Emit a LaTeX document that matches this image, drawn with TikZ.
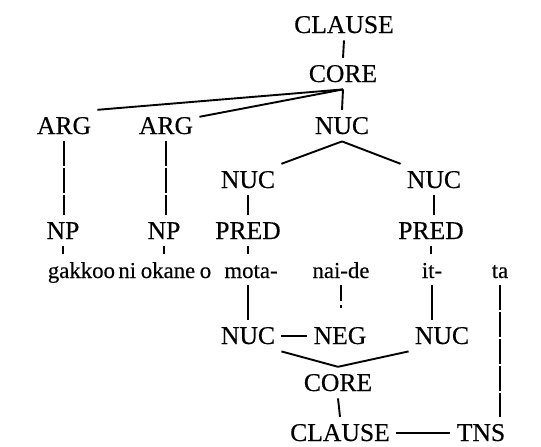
\documentclass[tikz,border=0pt]{standalone}
\usepackage{fontspec}
\setmainfont{Liberation Serif}[FakeBold=0.35]
\usetikzlibrary{calc}
\begin{document}
\begin{tikzpicture}[x=0.5pt,y=-0.5pt,
  lab/.style={font=\fontsize{12.8}{14}\selectfont, inner xsep=3pt, inner ysep=3.5pt, text height=8.4pt, text depth=0pt, anchor=base},
  wd/.style={lab, font=\fontsize{11.4}{14}\selectfont},
  ln/.style={line width=0.95pt},
  seg/.style={ln, dash pattern=on 12.5pt off 1pt},
  bang/.style={ln, dash pattern=on 8pt off 2pt on 1.2pt off 20pt}]
\useasboundingbox (0,0) rectangle (541,446);
\node[lab] (clA) at (344,33) {CLAUSE};
\node[lab] (coA) at (343,82) {CORE};
\node[lab] (arg1) at (64,134) {ARG};
\node[lab] (arg2) at (166,134) {ARG};
\node[lab] (nucA) at (342,134) {NUC};
\node[lab] (nucL) at (248,188) {NUC};
\node[lab] (nucR) at (434,188) {NUC};
\node[lab] (np1) at (63,239) {NP};
\node[lab] (np2) at (164,239) {NP};
\node[lab] (predL) at (248,239) {PRED};
\node[lab] (predR) at (431,239) {PRED};
\node[wd] (w1) at (92,278) {gakkoo\hspace{0.15em}ni};
\node[wd] (w2) at (176,278) {okane\hspace{0.2em}o};
\node[wd] (w3) at (251,278) {mota-};
\node[wd] (w4) at (341,278) {nai-de};
\node[wd] (w5) at (432,278) {it-};
\node[wd] (w6) at (500,278) {ta};
\node[lab] (nucB) at (248,344) {NUC};
\node[lab] (neg) at (340,344) {NEG};
\node[lab] (nucC) at (442,344) {NUC};
\node[lab] (coB) at (338,391) {CORE};
\node[lab] (clB) at (340,441) {CLAUSE};
\node[lab] (tns) at (481,441) {TNS};
\draw[ln] (clA.south) -- (coA.north);
\draw[ln] (arg1.north east) -- (coA.south);
\draw[ln] ($(arg2.north east)+(0,7)$) -- (coA.south);
\draw[ln] (coA.south) -- (nucA.north);
\draw[ln] (nucA.south) -- (nucL.north east);
\draw[ln] (nucA.south) -- (nucR.north west);
\draw[seg] (arg1.south) -- (arg1.south |- np1.north);
\draw[seg] (arg2.south) -- (arg2.south |- np2.north);
\draw[ln] (nucL.south) -- (nucL.south |- predL.north);
\draw[ln] (nucR.south) -- (nucR.south |- predR.north);
\draw[ln] (np1.south) -- (np1.south |- w1.north);
\draw[ln] (np2.south) -- (np2.south |- w2.north);
\draw[ln] (predL.south) -- (predL.south |- w3.north);
\draw[ln] (predR.south) -- (predR.south |- w5.north);
\draw[ln] (predL.south |- w3.south) -- (predL.south |- nucB.north);
\draw[bang] (w4.south) -- (w4.south |- neg.north);
\draw[ln] (w5.south) -- (w5.south |- nucC.north);
\draw[seg] (w6.south) -- (w6.south |- tns.north);
\draw[ln] (nucB.east) -- (neg.west);
\draw[ln] (nucB.south east) -- (coB.north);
\draw[ln] (nucC.south west) -- (coB.north);
\draw[ln] (coB.south) -- (clB.north);
\draw[ln] (clB.east) -- (tns.west);
\end{tikzpicture}
\end{document}
